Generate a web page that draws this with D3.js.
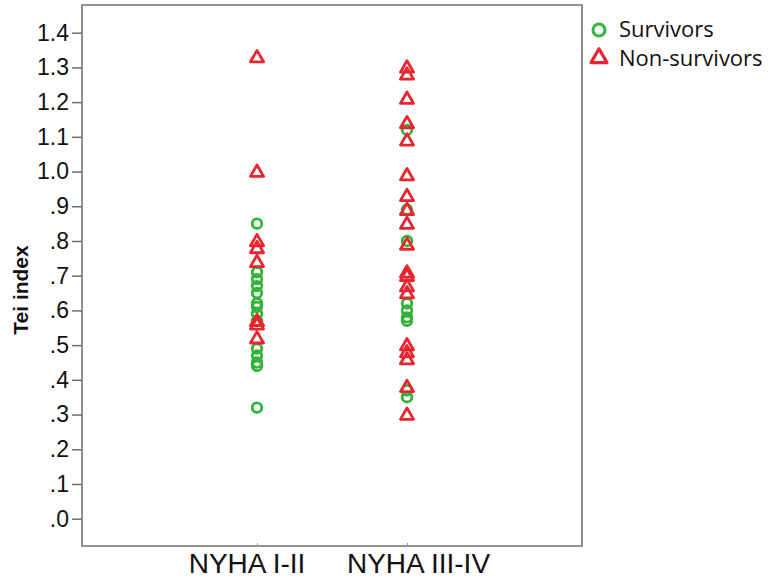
<!DOCTYPE html>
<html>
<head>
<meta charset="utf-8">
<script src="https://cdn.jsdelivr.net/npm/d3@7.9.0/dist/d3.min.js"></script>
<style>
  body { margin: 0; background: #fff; }
  svg { display: block; font-family: Arial, 'Liberation Sans', sans-serif; }
</style>
</head>
<body>
<div id="chart"></div>
<script>
const groups = ['NYHA I-II', 'NYHA III-IV'];
const yTicks = [0, 0.1, 0.2, 0.3, 0.4, 0.5, 0.6, 0.7, 0.8, 0.9, 1.0, 1.1, 1.2, 1.3, 1.4];

// Tei index per patient
const survivorsI = [0.85, 0.71, 0.69, 0.67, 0.65, 0.62, 0.61, 0.59, 0.57, 0.49, 0.47, 0.45, 0.44, 0.32];
const nonSurvivorsI = [1.33, 1.00, 0.80, 0.78, 0.74, 0.57, 0.56, 0.52];
const survivorsIII = [1.12, 0.89, 0.80, 0.62, 0.60, 0.58, 0.57, 0.37, 0.35];
const nonSurvivorsIII = [1.30, 1.28, 1.21, 1.14, 1.09, 0.99, 0.93, 0.89, 0.85, 0.79, 0.71, 0.70, 0.67, 0.65, 0.50, 0.48, 0.46, 0.38, 0.30];

const seriesNames = ['Survivors', 'Non-survivors'];

const width = 774;
const height = 578;
const frame = { left: 82, right: 582, top: 5, bottom: 546 };

const green = '#33b33a';
const red = '#e8262f';

const svg = d3.select('#chart')
  .append('svg')
  .attr('width', width)
  .attr('height', height);

const xScale = d3.scalePoint()
  .domain(groups)
  .range([frame.left, frame.right])
  .padding(7 / 6);

const yScale = d3.scaleLinear()
  .domain([0, 1.4])
  .range([518.7, 32.7]);

// frame
svg.append('rect')
  .attr('x', frame.left)
  .attr('y', frame.top)
  .attr('width', frame.right - frame.left)
  .attr('height', frame.bottom - frame.top)
  .attr('fill', 'none')
  .attr('stroke', '#6e6e6e')
  .attr('stroke-width', 1.5);

// y axis
const yAxis = svg.append('g')
  .attr('transform', `translate(${frame.left}, 0)`)
  .call(d3.axisLeft(yScale)
    .tickValues(yTicks)
    .tickSize(10)
    .tickPadding(3)
    .tickFormat(d => d < 1 ? d3.format('.1f')(d).replace(/^0/, '') : d3.format('.1f')(d)));
yAxis.select('.domain').remove();
yAxis.selectAll('line').attr('stroke', '#6e6e6e').attr('stroke-width', 1.5);
yAxis.selectAll('text')
  .attr('font-size', 23)
  .attr('fill', '#111')
  .attr('font-family', 'Arial, Liberation Sans, sans-serif');

// x axis
const xAxis = svg.append('g')
  .attr('transform', `translate(0, ${frame.bottom})`)
  .call(d3.axisBottom(xScale).tickSize(-3).tickPadding(0));
xAxis.select('.domain').remove();
xAxis.selectAll('line').attr('stroke', '#9a9a9a');
xAxis.selectAll('text')
  .attr('font-size', 28)
  .attr('fill', '#111')
  .attr('font-family', 'Arial, Liberation Sans, sans-serif')
  .attr('dy', null)
  .attr('y', 27)
  .attr('dx', (d, i) => i === 0 ? -10.5 : 11);

// y title
svg.append('text')
  .attr('transform', 'translate(28, 290) rotate(-90)')
  .attr('text-anchor', 'middle')
  .attr('font-size', 21)
  .attr('font-weight', 'bold')
  .attr('fill', '#111')
  .text('Tei index');

const tri = d3.symbol().type(d3.symbolTriangle).size(75);

function drawCircles(values, group) {
  svg.append('g').selectAll('circle')
    .data(values)
    .join('circle')
    .attr('cx', xScale(group))
    .attr('cy', d => yScale(d))
    .attr('r', 4.8)
    .attr('fill', 'none')
    .attr('stroke', green)
    .attr('stroke-width', 2.8);
}

function drawTriangles(values, group) {
  svg.append('g').selectAll('path')
    .data(values)
    .join('path')
    .attr('d', tri)
    .attr('transform', d => `translate(${xScale(group)}, ${yScale(d) + 1})`)
    .attr('fill', 'none')
    .attr('stroke', red)
    .attr('stroke-width', 2.8)
    .attr('stroke-linejoin', 'round');
}

drawCircles(survivorsI, groups[0]);
drawTriangles(nonSurvivorsI, groups[0]);
drawCircles(survivorsIII, groups[1]);
drawTriangles(nonSurvivorsIII, groups[1]);

// legend
const legend = svg.append('g').attr('transform', 'translate(599, 0)');
legend.append('circle')
  .attr('cx', 0).attr('cy', 30).attr('r', 6)
  .attr('fill', 'none').attr('stroke', green).attr('stroke-width', 3);
legend.append('path')
  .attr('d', d3.symbol().type(d3.symbolTriangle).size(110))
  .attr('transform', 'translate(0, 58)')
  .attr('fill', 'none').attr('stroke', red).attr('stroke-width', 3.2)
  .attr('stroke-linejoin', 'round');
legend.selectAll('text.lbl')
  .data(seriesNames)
  .join('text')
  .attr('class', 'lbl')
  .attr('x', 20)
  .attr('y', (d, i) => 37 + i * 29)
  .attr('font-size', 22)
  .attr('font-family', 'Open Sans, sans-serif')
  .attr('fill', '#111')
  .text(d => d);
</script>
</body>
</html>
